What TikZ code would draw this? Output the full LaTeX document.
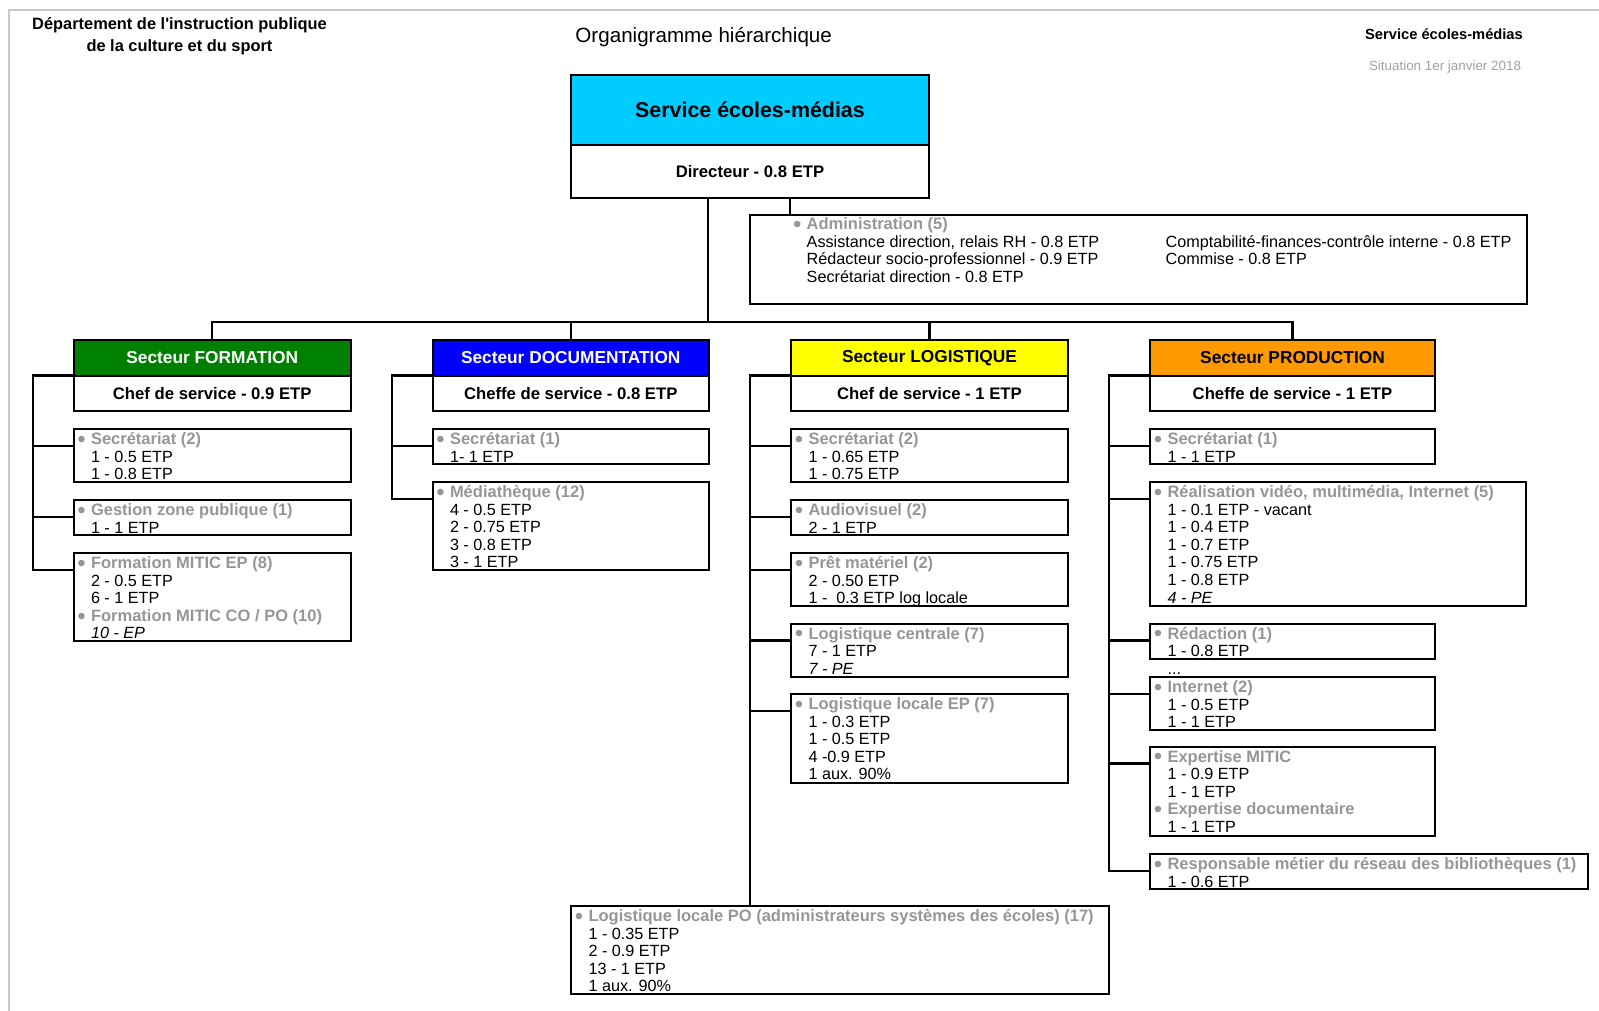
\documentclass[tikz,border=0pt]{standalone}
\usepackage{fontspec}
\setmainfont{Liberation Sans}
\definecolor{cyanhd}{RGB}{0,204,255}
\definecolor{greenhd}{RGB}{0,128,0}
\definecolor{bluehd}{RGB}{0,0,255}
\definecolor{yellowhd}{RGB}{255,255,0}
\definecolor{orangehd}{RGB}{255,153,0}
\definecolor{hdgray}{RGB}{150,150,150}
\definecolor{sitgray}{RGB}{160,160,160}
\definecolor{framegray}{RGB}{200,200,200}
\tikzset{
  box/.style={draw=black, line width=2pt, inner sep=0pt, outer sep=0pt, anchor=north west},
  conn/.style={draw=black, line width=2.2pt},
  txt/.style={inner sep=0pt, outer sep=0pt, anchor=base west, font=\fontsize{16.2}{17.6}\selectfont},
  sectt/.style={font=\bfseries\fontsize{17.3}{20}\selectfont},
  chief/.style={font=\bfseries\fontsize{16.7}{20}\selectfont},
}
\newcommand{\hd}[1]{\leavevmode\llap{\raisebox{-2.8pt}{\fontsize{24}{24}\selectfont\textcolor{hdgray}{•}}\hskip 5.2pt}{\bfseries\fontsize{16.5}{17.6}\selectfont\color{hdgray}#1}}
\newcommand{\mkbox}[7][]{%
  \pgfmathsetmacro{\myBW}{#5-#3}%
  \pgfmathsetmacro{\myBH}{#6-#4}%
  \node[box, minimum width=\myBW pt, minimum height=\myBH pt, #1] (#2) at (#3,#4) {#7};}
\newcommand{\mktxt}[3]{%
  \node[txt] (#1) at ([xshift=17.5pt,yshift=-15.5pt]#2.north west) {\parbox[t]{520pt}{\raggedright #3}};}
\begin{document}
\begin{tikzpicture}[x=1pt,y=-1pt]
\useasboundingbox (0,0) rectangle (1599,1011);
\draw[framegray,line width=1.5pt] (9,1011) -- (9,10) -- (1599,10);

% header texts
\node[font=\bfseries\fontsize{16.4}{22.5}\selectfont, align=center] (dept) at (179.5,36)
  {Département de l\textquotesingle instruction publique\\de la culture et du sport};
\node[font=\fontsize{20.6}{24}\selectfont] (org) at (703.7,36.7) {Organigramme hiérarchique};
\node[font=\bfseries\fontsize{14.7}{17}\selectfont] (svc) at (1444,34) {Service écoles-médias};
\node[font=\fontsize{13.4}{16}\selectfont, text=sitgray] (sit) at (1445,67) {Situation 1er janvier 2018};

% top box
\mkbox[fill=cyanhd, font=\bfseries\fontsize{21.4}{24}\selectfont]{topH}{571}{75}{929}{145}{Service écoles-médias}
\mkbox[chief]{topC}{571}{145}{929}{198}{Directeur - 0.8 ETP}

% administration
\mkbox{adm}{750}{215}{1527}{304}{}
\node[txt] (admL) at ([xshift=56.7pt,yshift=-14.8pt]adm.north west) {\parbox[t]{340pt}{\raggedright
  \hd{Administration (5)}\\Assistance direction, relais RH - 0.8 ETP\\Rédacteur socio-professionnel - 0.9 ETP\\Secrétariat direction - 0.8 ETP}};
\node[txt] (admR) at ([xshift=415.6pt,yshift=-32.3pt]adm.north west) {\parbox[t]{360pt}{\raggedright
  Comptabilité-finances-contrôle interne - 0.8 ETP\\Commise - 0.8 ETP}};

% sectors
\mkbox[fill=greenhd, sectt, text=white]{formH}{73.5}{340}{351}{375.5}{Secteur FORMATION}
\mkbox[chief]{formC}{73.5}{375.5}{351}{411}{Chef de service - 0.9 ETP}
\mkbox[fill=bluehd, sectt, text=white]{docH}{432.5}{340}{709}{375.5}{Secteur DOCUMENTATION}
\mkbox[chief]{docC}{432.5}{375.5}{709}{411}{Cheffe de service - 0.8 ETP}
\mkbox[fill=yellowhd, sectt]{logH}{791}{340}{1068}{375.5}{Secteur LOGISTIQUE}
\mkbox[chief]{logC}{791}{375.5}{1068}{411}{Chef de service - 1 ETP}
\mkbox[fill=orangehd, sectt]{prodH}{1150}{340}{1435}{375.5}{Secteur PRODUCTION}
\mkbox[chief]{prodC}{1150}{375.5}{1435}{411}{Cheffe de service - 1 ETP}

% FORMATION boxes
\mkbox{f1}{73.5}{429}{351}{482}{}
\mktxt{f1t}{f1}{\hd{Secrétariat (2)}\\1 - 0.5 ETP\\1 - 0.8 ETP}
\mkbox{f2}{73.5}{500}{351}{535}{}
\mktxt{f2t}{f2}{\hd{Gestion zone publique (1)}\\1 - 1 ETP}
\mkbox{f3}{73.5}{553}{351}{641}{}
\mktxt{f3t}{f3}{\hd{Formation MITIC EP (8)}\\2 - 0.5 ETP\\6 - 1 ETP\\\hd{Formation MITIC CO / PO (10)}\\\textit{10 - EP}}

% DOCUMENTATION boxes
\mkbox{d1}{432.5}{429}{709}{464}{}
\mktxt{d1t}{d1}{\hd{Secrétariat (1)}\\1- 1 ETP}
\mkbox{d2}{432.5}{482}{709}{570}{}
\mktxt{d2t}{d2}{\hd{Médiathèque (12)}\\4 - 0.5 ETP\\2 - 0.75 ETP\\3 - 0.8 ETP\\3 - 1 ETP}

% LOGISTIQUE boxes
\mkbox{l1}{791}{429}{1068}{482}{}
\mktxt{l1t}{l1}{\hd{Secrétariat (2)}\\1 - 0.65 ETP\\1 - 0.75 ETP}
\mkbox{l2}{791}{500}{1068}{535}{}
\mktxt{l2t}{l2}{\hd{Audiovisuel (2)}\\2 - 1 ETP}
\mkbox{l3}{791}{553}{1068}{606}{}
\mktxt{l3t}{l3}{\hd{Prêt matériel (2)}\\2 - 0.50 ETP\\1 -\ \ 0.3 ETP log locale}
\mkbox{l4}{791}{623.5}{1068}{677}{}
\mktxt{l4t}{l4}{\hd{Logistique centrale (7)}\\7 - 1 ETP\\\textit{7 - PE}}
\mkbox{l5}{791}{694}{1068}{782.5}{}
\mktxt{l5t}{l5}{\hd{Logistique locale EP (7)}\\1 - 0.3 ETP\\1 - 0.5 ETP\\4 -0.9 ETP\\1 aux. 90\%}
\mkbox{po}{571}{906}{1108.5}{994}{}
\mktxt{pot}{po}{\hd{Logistique locale PO (administrateurs systèmes des écoles) (17)}\\1 - 0.35 ETP\\2 - 0.9 ETP\\13 - 1 ETP\\1 aux. 90\%}

% PRODUCTION boxes
\mkbox{p1}{1150}{429}{1435}{464}{}
\mktxt{p1t}{p1}{\hd{Secrétariat (1)}\\1 - 1 ETP}
\mkbox{p2}{1150}{482}{1526}{605.5}{}
\mktxt{p2t}{p2}{\hd{Réalisation vidéo, multimédia, Internet (5)}\\1 - 0.1 ETP - vacant\\1 - 0.4 ETP\\1 - 0.7 ETP\\1 - 0.75 ETP\\1 - 0.8 ETP\\\textit{4 - PE}}
\mkbox{p3}{1150}{623.5}{1435}{659}{}
\mktxt{p3t}{p3}{\hd{Rédaction (1)}\\1 - 0.8 ETP\\...}
\mkbox{p4}{1150}{677}{1435}{730}{}
\mktxt{p4t}{p4}{\hd{Internet (2)}\\1 - 0.5 ETP\\1 - 1 ETP}
\mkbox{p5}{1150}{746.5}{1435}{835.5}{}
\mktxt{p5t}{p5}{\hd{Expertise MITIC}\\1 - 0.9 ETP\\1 - 1 ETP\\\hd{Expertise documentaire}\\1 - 1 ETP}
\mkbox{p6}{1150}{854}{1588}{889}{}
\mktxt{p6t}{p6}{\hd{Responsable métier du réseau des bibliothèques (1)}\\1 - 0.6 ETP}

% connectors
\coordinate (busy) at (0,322);
\coordinate (trunkx) at (708,0);
\coordinate (admx) at (790,0);
\draw[conn] (topC.south -| trunkx) -- (trunkx |- busy);
\draw[conn] (topC.south -| admx) -- (adm.north -| admx);
\draw[conn] (formH.north) -- (formH.north |- busy) -- (prodH.north |- busy) -- (prodH.north);
\draw[conn] (docH.north) -- (docH.north |- busy);
\draw[conn] (logH.north) -- (logH.north |- busy);

\coordinate (formsp) at (33,0);
\coordinate (docsp) at (392,0);
\coordinate (logsp) at (750,0);
\coordinate (prodsp) at (1109,0);

\foreach \b in {f1,f2,f3,d1,d2,l1,l2,l3,l4,l5,p1,p2,p3,p4,p5,p6}
  \coordinate (\b b) at ([yshift=-17pt]\b.north west);

\draw[conn] (formC.north west) -| (f3b -| formsp) -- (f3b);
\draw[conn] (f1b -| formsp) -- (f1b);
\draw[conn] (f2b -| formsp) -- (f2b);

\draw[conn] (docC.north west) -| (d2b -| docsp) -- (d2b);
\draw[conn] (d1b -| docsp) -- (d1b);

\draw[conn] (logC.north west) -| (po.north -| logsp);
\foreach \b in {l1,l2,l3,l4,l5}
  \draw[conn] (\b b -| logsp) -- (\b b);

\draw[conn] (prodC.north west) -| (p6b -| prodsp) -- (p6b);
\foreach \b in {p1,p2,p3,p4,p5}
  \draw[conn] (\b b -| prodsp) -- (\b b);
\end{tikzpicture}
\end{document}
